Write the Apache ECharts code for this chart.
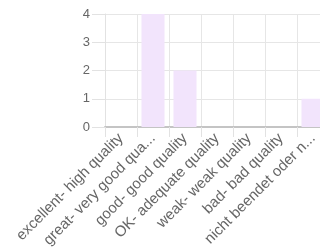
<!DOCTYPE html>
<html>
<head>
<meta charset="utf-8">
<script src="https://cdn.jsdelivr.net/npm/echarts@6/dist/echarts.min.js"></script>
<style>
html, body { margin: 0; padding: 0; background: #fff; }
#main { width: 320px; height: 250px; }
</style>
</head>
<body>
<div id="main"></div>
<script>
// categories as shown (long ones are cut off in the picture)
var categories = [
    'excellent- high quality',
    'great- very good qua...',
    'good- good quality',
    'OK- adequate quality',
    'weak- weak quality',
    'bad- bad quality',
    'nicht beendet oder n...'
];
var counts = [0, 4, 2, 0, 0, 0, 1];
var yTicks = [0, 1, 2, 3, 4];

var myChart = echarts.init(document.getElementById('main'));

var option = {
    animation: false,
    grid: {
        left: 105,
        top: 14,
        width: 224,
        height: 113,
        containLabel: false,
        outerBoundsMode: 'none'
    },
    xAxis: {
        type: 'category',
        data: categories,
        boundaryGap: true,
        axisLine: { show: true, lineStyle: { color: '#c4c4c4', width: 2 } },
        axisTick: { show: true, length: 10, lineStyle: { color: '#e2e2e2' } },
        splitLine: { show: true, lineStyle: { color: '#e6e6e6' } },
        axisLabel: {
            interval: 0,
            rotate: 45,
            margin: 9,
            color: '#666',
            fontSize: 15,
            fontFamily: 'Liberation Sans, Arial, sans-serif'
        }
    },
    yAxis: {
        type: 'value',
        min: yTicks[0],
        max: yTicks[yTicks.length - 1],
        interval: 1,
        axisLine: { show: true, lineStyle: { color: '#e2e2e2' } },
        axisTick: { show: true, length: 13, lineStyle: { color: '#e2e2e2' } },
        splitLine: { show: true, lineStyle: { color: '#e6e6e6' } },
        axisLabel: {
            margin: 15,
            color: '#666',
            fontSize: 13,
            fontFamily: 'Liberation Sans, Arial, sans-serif'
        }
    },
    series: [
        {
            type: 'bar',
            data: counts,
            barCategoryGap: '28%',
            itemStyle: { color: '#f2e4fc' }
        }
    ]
};

myChart.setOption(option);
</script>
</body>
</html>
